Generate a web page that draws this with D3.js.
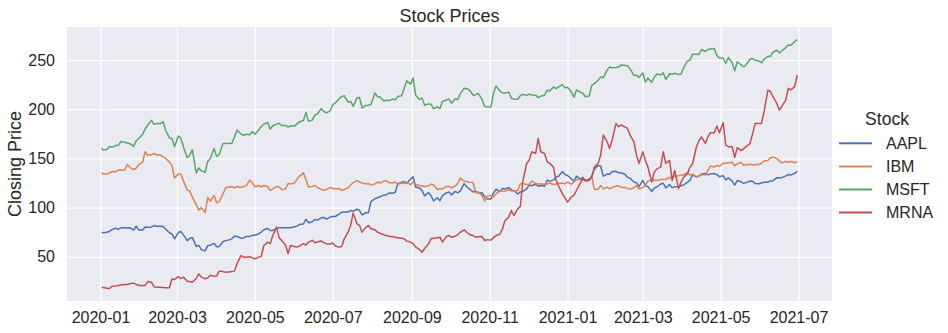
<!DOCTYPE html>
<html><head><meta charset="utf-8">
<script src="https://cdn.jsdelivr.net/npm/d3@7"></script>
<style>body{margin:0;background:#fff} svg{display:block}</style>
</head><body><svg id="c" width="948" height="333"></svg>
<script>
const dates = [
"2020-01-02","2020-01-03",
"2020-01-06","2020-01-08","2020-01-10","2020-01-13","2020-01-15","2020-01-17","2020-01-20","2020-01-22","2020-01-24","2020-01-27","2020-01-29","2020-01-31",
"2020-02-03","2020-02-05","2020-02-07","2020-02-10","2020-02-12","2020-02-14","2020-02-17","2020-02-19","2020-02-21","2020-02-24","2020-02-26","2020-02-28",
"2020-03-02","2020-03-04","2020-03-06","2020-03-09","2020-03-11","2020-03-13","2020-03-16","2020-03-18","2020-03-20","2020-03-23","2020-03-25","2020-03-27","2020-03-30","2020-04-01","2020-04-03",
"2020-04-06","2020-04-08","2020-04-10","2020-04-13","2020-04-15","2020-04-17","2020-04-20","2020-04-22","2020-04-24","2020-04-27","2020-04-29","2020-05-01",
"2020-05-04","2020-05-06","2020-05-08","2020-05-11","2020-05-13","2020-05-15","2020-05-18","2020-05-20","2020-05-22","2020-05-25","2020-05-27","2020-05-29",
"2020-06-01","2020-06-03","2020-06-05","2020-06-08","2020-06-10","2020-06-12","2020-06-15","2020-06-17","2020-06-19","2020-06-22","2020-06-24","2020-06-26","2020-06-29","2020-07-01","2020-07-03",
"2020-07-06","2020-07-08","2020-07-10","2020-07-13","2020-07-15","2020-07-17","2020-07-20","2020-07-22","2020-07-24","2020-07-27","2020-07-29","2020-07-31",
"2020-08-03","2020-08-05","2020-08-07","2020-08-10","2020-08-12","2020-08-14","2020-08-17","2020-08-19","2020-08-21","2020-08-24","2020-08-26","2020-08-28","2020-08-31","2020-09-02","2020-09-04",
"2020-09-07","2020-09-09","2020-09-11","2020-09-14","2020-09-16","2020-09-18","2020-09-21","2020-09-23","2020-09-25","2020-09-28","2020-09-30","2020-10-02",
"2020-10-05","2020-10-07","2020-10-09","2020-10-12","2020-10-14","2020-10-16","2020-10-19","2020-10-21","2020-10-23","2020-10-26","2020-10-28","2020-10-30",
"2020-11-02","2020-11-04","2020-11-06","2020-11-09","2020-11-11","2020-11-13","2020-11-16","2020-11-18","2020-11-20","2020-11-23","2020-11-25","2020-11-27","2020-11-30","2020-12-02","2020-12-04",
"2020-12-07","2020-12-09","2020-12-11","2020-12-14","2020-12-16","2020-12-18","2020-12-21","2020-12-23","2020-12-25","2020-12-28","2020-12-30","2021-01-01",
"2021-01-04","2021-01-06","2021-01-08","2021-01-11","2021-01-13","2021-01-15","2021-01-18","2021-01-20","2021-01-22","2021-01-25","2021-01-27","2021-01-29",
"2021-02-01","2021-02-03","2021-02-05","2021-02-08","2021-02-10","2021-02-12","2021-02-15","2021-02-17","2021-02-19","2021-02-22","2021-02-24","2021-02-26",
"2021-03-01","2021-03-03","2021-03-05","2021-03-08","2021-03-10","2021-03-12","2021-03-15","2021-03-17","2021-03-19","2021-03-22","2021-03-24","2021-03-26","2021-03-29","2021-03-31","2021-04-02",
"2021-04-05","2021-04-07","2021-04-09","2021-04-12","2021-04-14","2021-04-16","2021-04-19","2021-04-21","2021-04-23","2021-04-26","2021-04-28","2021-04-30",
"2021-05-03","2021-05-05","2021-05-07","2021-05-10","2021-05-12","2021-05-14","2021-05-17","2021-05-19","2021-05-21","2021-05-24","2021-05-26","2021-05-28","2021-05-31","2021-06-02","2021-06-04",
"2021-06-07","2021-06-09","2021-06-11","2021-06-14","2021-06-16","2021-06-18","2021-06-21","2021-06-23","2021-06-25","2021-06-28","2021-06-30"
];

const aapl = [
75.1,74.4,
75.0,75.8,77.6, 79.2,77.8,79.7, 79.5,79.4,79.6, 77.2,81.1,77.4,
77.2,80.4,80.0, 80.4,81.8,81.2, 81.2,80.9,78.3, 74.5,73.2,68.3,
74.7,75.7,72.3, 66.5,68.9,69.5, 60.6,61.7,57.3, 56.1,61.4,61.9, 63.7,60.2,60.4,
65.6,66.5,67.0, 68.3,71.1,70.7, 69.2,69.0,70.7, 70.8,71.9,72.3,
73.3,75.2,77.5, 78.8,76.9,76.9, 78.7,79.7,79.7, 79.5,79.5,79.5,
80.5,81.2,82.9, 83.4,88.2,84.7, 85.7,88.0,87.4, 89.7,90.0,88.4, 90.4,91.0,91.0,
93.5,95.3,95.7, 95.5,97.1,96.3, 98.4,97.3,92.6, 94.8,95.0,106.3,
108.9,110.1,111.1, 112.7,113.0,114.9, 114.6,115.7,124.4, 125.9,126.5,124.8, 129.0,131.4,121.0,
120.0,117.3,112.0, 115.4,112.1,106.8, 110.1,107.1,112.3, 115.0,115.8,113.0,
116.5,115.1,117.0, 124.4,121.2,119.0, 116.0,116.9,115.0, 115.1,111.2,108.9,
108.8,115.0,118.7, 116.3,119.5,119.3, 120.3,118.0,117.3, 113.9,116.0,116.6, 119.1,123.1,122.3,
123.8,121.8,122.4, 121.8,127.9,126.7, 128.2,131.0,132.0, 136.7,133.7,132.7,
129.4,126.6,132.1, 129.0,130.9,127.1, 127.5,132.0,139.1, 142.9,142.1,132.0,
134.1,133.9,136.8, 136.9,135.4,135.4, 134.0,130.8,129.9, 126.0,125.4,121.3,
127.8,122.1,121.4, 116.4,120.0,121.0, 124.0,124.8,120.0, 123.4,120.1,121.2, 121.4,122.2,123.0,
125.9,127.9,133.0, 131.2,132.0,134.2, 134.8,133.5,134.3, 134.7,133.6,131.5,
132.5,128.1,130.2, 126.9,122.8,127.5, 126.3,124.7,125.4, 127.1,126.9,124.6, 124.3,125.1,125.9,
125.9,127.1,127.4, 130.5,130.2,130.5, 132.3,133.7,133.1, 134.8,137.0
];

const ibm = [
135.4,134.3,
134.1,135.3,136.7, 136.6,138.3,138.3, 138.3,143.9,141.0, 138.6,140.0,143.7,
146.0,156.8,153.0, 154.0,155.0,153.5, 153.5,151.5,150.0, 146.4,143.0,130.2,
134.3,134.2,127.2, 117.8,116.8,110.7, 103.0,97.5,100.0, 95.0,110.5,106.5, 112.4,105.1,106.0,
114.0,120.0,121.0, 121.2,120.0,121.5, 120.4,121.5,122.0, 128.0,125.0,121.2,
122.5,121.0,122.5, 121.5,117.5,119.0, 121.5,121.0,118.5, 119.0,124.5,124.0,
125.0,129.0,132.0, 135.5,128.5,121.0, 121.5,122.5,120.5, 118.5,117.5,118.5, 120.5,119.5,119.0,
119.5,117.5,118.5, 120.0,123.0,125.5, 127.5,126.0,125.0, 124.0,124.5,122.9,
124.0,126.0,125.0, 127.0,127.5,125.5, 125.0,126.0,123.5, 125.0,124.5,125.8, 123.3,126.0,123.5,
122.5,122.0,121.5, 122.0,124.0,123.0, 118.5,119.5,119.0, 121.5,121.7,120.0,
122.0,124.9,130.0, 127.0,126.5,125.9, 125.5,115.1,116.0, 112.2,106.7,111.7,
112.5,111.0,114.0, 117.5,116.5,117.0, 118.0,117.0,116.9, 117.5,124.2,124.4, 123.5,123.5,127.0,
124.5,124.0,124.3, 123.5,124.0,125.0, 123.5,123.9,124.7, 124.8,124.3,125.9,
123.9,126.1,128.5, 128.6,128.2,127.5, 128.5,131.6,118.6, 118.6,122.5,119.1,
120.9,119.1,120.5, 121.9,122.2,120.8, 120.5,119.6,118.9, 120.0,122.6,118.9,
120.7,122.4,127.0, 127.9,128.1,127.6, 128.6,128.6,128.9, 130.6,130.5,132.0, 132.5,133.3,133.3,
135.9,133.0,134.1, 131.2,132.6,133.6, 133.1,138.2,142.4, 141.2,143.0,141.9,
145.1,145.2,145.5, 146.2,142.7,144.7, 145.8,143.2,143.7, 144.0,143.4,143.7, 144.0,145.1,147.4,
148.0,150.7,151.3, 150.0,147.5,145.5, 147.0,146.2,146.8, 145.6,146.6
];

const msft = [
160.6,158.6,
159.0,162.1,161.3, 163.3,163.2,167.1, 166.5,165.7,165.0, 162.3,168.0,170.2,
174.4,179.9,183.9, 188.7,184.7,185.4, 185.4,187.3,178.6, 170.9,170.2,162.0,
172.8,170.6,161.6, 150.6,153.6,158.8, 135.4,140.4,137.4, 136.0,146.9,149.7, 160.2,152.1,153.8,
165.3,165.1,165.1, 165.5,171.9,178.6, 175.1,173.5,174.6, 174.1,177.4,174.6,
178.8,182.5,184.7, 186.7,179.8,183.2, 184.9,185.7,183.5, 183.5,181.8,183.3,
182.8,185.4,187.2, 188.4,196.8,187.7, 188.9,194.2,195.2, 200.6,197.8,196.3, 198.4,204.7,206.3,
210.7,212.8,213.7, 207.1,208.0,202.9, 211.6,211.8,201.3, 203.9,204.1,205.0,
216.5,212.9,212.5, 208.3,209.2,208.9, 210.3,209.7,213.0, 213.7,221.2,228.9, 225.5,231.7,214.3,
210.0,211.3,204.0, 205.4,205.1,200.4, 202.5,200.6,207.8, 209.4,210.3,206.2,
210.4,209.8,215.8, 221.4,220.9,219.7, 214.2,214.8,216.2, 210.1,202.7,202.5,
202.3,216.4,223.7, 218.4,216.6,216.5, 217.2,211.1,210.4, 210.1,213.9,215.2, 214.1,215.4,214.4,
214.3,211.8,213.3, 214.2,219.3,218.6, 222.6,221.0,222.8, 225.0,221.7,222.4,
217.7,212.3,219.6, 217.5,216.3,212.7, 213.5,224.3,226.0, 229.5,232.9,232.0,
239.7,243.0,242.2, 242.5,242.8,245.0, 244.5,244.2,241.0, 234.5,234.6,232.4,
236.9,227.6,231.6, 227.4,232.4,235.8, 234.8,237.0,230.4, 236.0,235.5,236.5, 235.2,235.8,242.4,
249.1,249.9,255.9, 255.9,255.6,260.7, 258.7,260.6,261.2, 261.6,254.6,252.2,
251.9,246.5,252.5, 247.2,239.0,248.2, 245.2,243.1,245.2, 250.8,251.5,249.7, 249.0,247.3,250.8,
253.8,253.6,257.9, 259.9,257.4,259.4, 262.6,265.3,265.0, 268.7,270.9
];

const mrna = [
19.2,18.9,
18.1,17.8,20.2, 20.5,21.0,21.5, 21.8,22.0,22.6, 23.3,22.0,20.9,
21.0,21.0,24.9, 24.2,19.5,19.2, 19.0,18.8,18.5, 18.5,27.5,27.0,
30.0,27.8,29.4, 25.3,25.0,24.2, 28.0,32.7,29.4, 27.8,28.5,31.2, 30.2,30.5,35.5,
35.0,34.4,34.5, 35.0,35.5,42.9, 51.3,49.7,49.5, 50.2,49.0,48.0,
49.7,50.5,61.5, 65.0,63.4,71.7, 80.2,69.3,66.6, 62.0,53.1,61.5,
60.5,59.9,61.0, 63.4,62.0,65.0, 66.8,64.4,65.0, 66.1,64.5,63.4, 63.0,64.0,61.0,
59.9,60.6,68.3, 75.0,81.9,94.4, 83.6,81.9,75.1, 80.0,81.9,78.5,
77.5,75.1,74.0, 72.5,71.7,71.0, 70.5,70.0,69.5, 68.8,68.3,66.0, 65.0,63.4,60.0,
57.5,54.8,58.5, 63.0,68.3,69.0, 69.5,70.0,65.0, 70.5,71.7,70.0,
71.0,72.5,75.0, 77.5,75.0,73.0, 71.5,70.0,70.5, 70.6,66.6,67.5,
67.0,69.5,71.7, 73.0,78.5,87.0, 90.4,97.1,92.0, 98.8,101.2,127.0, 144.9,148.3,156.8,
155.0,170.3,156.8, 155.0,146.6,145.0, 141.2,127.6,122.0, 114.0,110.0,105.6,
111.0,112.5,117.4, 125.0,129.3,127.6, 129.0,131.0,141.2, 144.9,153.4,173.8,
167.0,160.2,168.7, 185.6,182.2,184.0, 182.0,180.5,173.8, 167.0,153.4,145.0,
156.8,148.0,141.2, 126.0,136.1,139.4, 141.2,156.8,145.0, 148.0,127.6,137.8, 119.2,126.0,131.0,
134.4,141.2,144.6, 161.9,168.0,172.0, 165.2,172.0,176.1, 176.1,182.9,176.1,
186.3,163.6,161.9, 161.9,151.0,161.0, 158.0,160.0,162.0, 165.2,175.0,185.6, 185.6,185.6,197.5,
219.5,218.0,212.7, 205.9,199.2,203.2, 209.3,221.2,219.6, 222.9,234.8
];

const stocks = ["AAPL","IBM","MSFT","MRNA"];
const colors = ["#4C72B0","#DD8452","#55A868","#C44E52"];
const yTicks = [50,100,150,200,250];
const xTicks = ["2020-01","2020-03","2020-05","2020-07","2020-09","2020-11","2021-01","2021-03","2021-05","2021-07"];

const FONT = '"Liberation Sans", Arial, "DejaVu Sans", sans-serif';
const TXT = "#262626";
const L = 67, R = 832, T = 27, B = 301;
const svg = d3.select("#c");
const parse = d3.utcParse("%Y-%m-%d");
const X = dates.map(parse);
const series = [aapl, ibm, msft, mrna];

const [x0, x1] = d3.extent(X);
const dx = (x1 - x0) * 0.05;
const x = d3.scaleUtc().domain([new Date(+x0 - dx), new Date(+x1 + dx)]).range([L, R]);
const [v0, v1] = d3.extent(series.flat());
const dv = (v1 - v0) * 0.05;
const y = d3.scaleLinear().domain([v0 - dv, v1 + dv]).range([B, T]);

svg.append("rect").attr("x", L).attr("y", T).attr("width", R - L).attr("height", B - T).attr("fill", "#EAEAF2");

const gx = svg.append("g").attr("transform", `translate(0,${B})`)
  .call(d3.axisBottom(x).tickValues(xTicks.map(d => parse(d + "-01"))).tickFormat(d3.utcFormat("%Y-%m")).tickSize(-(B - T)).tickPadding(11));
gx.attr("font-size", 16).attr("font-family", FONT);
gx.select(".domain").remove();
gx.selectAll(".tick line").attr("stroke", "#fff").attr("stroke-width", 1.25);
gx.selectAll(".tick text").attr("fill", TXT);

const gy = svg.append("g").attr("transform", `translate(${L},0)`)
  .call(d3.axisLeft(y).tickValues(yTicks).tickSize(-(R - L)).tickPadding(12));
gy.attr("font-size", 16).attr("font-family", FONT);
gy.select(".domain").remove();
gy.selectAll(".tick line").attr("stroke", "#fff").attr("stroke-width", 1.25);
gy.selectAll(".tick text").attr("fill", TXT);

const line = d3.line().x((d, i) => x(X[i])).y(d => y(d));
series.forEach((s, k) => {
  svg.append("path").datum(s).attr("d", line).attr("fill", "none")
    .attr("stroke", colors[k]).attr("stroke-width", 1.5).attr("stroke-linejoin", "round");
});

svg.append("text").attr("x", (L + R) / 2).attr("y", 21.5).attr("text-anchor", "middle")
  .attr("font-family", FONT).attr("font-size", 18).attr("fill", TXT).text("Stock Prices");
svg.append("text").attr("transform", `translate(20.5,${(T + B) / 2}) rotate(-90)`).attr("text-anchor", "middle")
  .attr("font-family", FONT).attr("font-size", 18).attr("fill", TXT).text("Closing Price");

const lg = svg.append("g");
lg.append("text").attr("x", 887).attr("y", 125).attr("text-anchor", "middle")
  .attr("font-family", FONT).attr("font-size", 17.5).attr("fill", TXT).text("Stock");
stocks.forEach((s, k) => {
  const yy = 143.3 + k * 23.1;
  lg.append("line").attr("x1", 839).attr("x2", 872).attr("y1", yy).attr("y2", yy)
    .attr("stroke", colors[k]).attr("stroke-width", 2);
  lg.append("text").attr("x", 886).attr("y", yy + 5.8).attr("font-family", FONT)
    .attr("font-size", 16).attr("fill", TXT).text(s);
});
</script>
</body></html>
